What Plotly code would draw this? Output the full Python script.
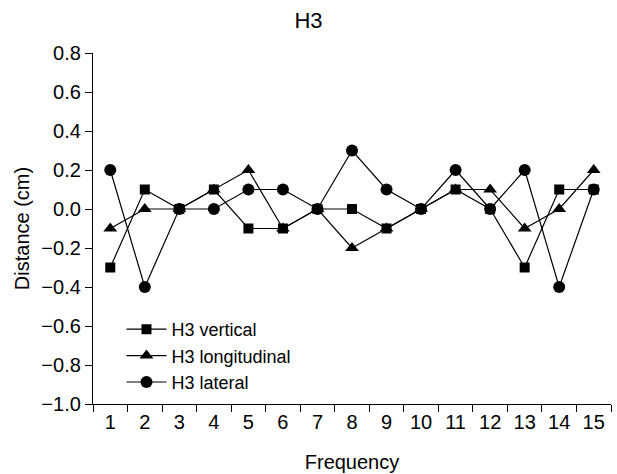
import plotly.graph_objects as go

frequency = [str(i) for i in range(1, 16)]
h3_vertical = [-0.3, 0.1, 0.0, 0.1, -0.1, -0.1, 0.0, 0.0, -0.1, 0.0, 0.1, 0.0, -0.3, 0.1, 0.1]
h3_longitudinal = [-0.1, 0.0, 0.0, 0.1, 0.2, -0.1, 0.0, -0.2, -0.1, 0.0, 0.1, 0.1, -0.1, 0.0, 0.2]
h3_lateral = [0.2, -0.4, 0.0, 0.0, 0.1, 0.1, 0.0, 0.3, 0.1, 0.0, 0.2, 0.0, 0.2, -0.4, 0.1]
y_ticks = [0.8, 0.6, 0.4, 0.2, 0.0, -0.2, -0.4, -0.6, -0.8, -1.0]

FONT = "Liberation Sans, Arial, sans-serif"
FS = 20

fig = go.Figure()
for name, vals, sym, sz in [
    ("H3 vertical", h3_vertical, "square", 10),
    ("H3 longitudinal", h3_longitudinal, "triangle-up", 12),
    ("H3 lateral", h3_lateral, "circle", 12),
]:
    fig.add_trace(go.Scatter(
        x=frequency, y=vals, name=name, mode="lines+markers",
        line=dict(color="black", width=1.2),
        marker=dict(symbol=sym, size=sz, color="black"),
    ))

fig.update_layout(
    width=617, height=474,
    margin=dict(l=93, r=6, t=53, b=70, autoexpand=False),
    paper_bgcolor="white", plot_bgcolor="white",
    font=dict(family=FONT, size=FS, color="black"),
    title=dict(text="H3", x=0.5, xanchor="center", y=0.958, yanchor="middle",
               font=dict(family=FONT, size=22, color="black")),
    legend=dict(x=0.055, y=0.265, xanchor="left", yanchor="top",
                bgcolor="rgba(0,0,0,0)", font=dict(family=FONT, size=18),
                tracegroupgap=0, itemwidth=40),
    showlegend=True,
)
fig.update_xaxes(
    type="category", range=[-0.5, 14.5], automargin=False,
    showline=True, linecolor="black", linewidth=1.3,
    ticks="outside", tickson="boundaries", ticklen=7, tickcolor="black", tickwidth=1.3,
    showgrid=False, zeroline=False,
    title=dict(text="Frequency", font=dict(family=FONT, size=FS), standoff=22),
    tickfont=dict(family=FONT, size=FS),
)
fig.update_yaxes(
    range=[-1.0, 0.8], tickvals=y_ticks, tickformat=".1f", automargin=False,
    showline=True, linecolor="black", linewidth=1.3,
    ticks="outside", ticklen=7, tickcolor="black", tickwidth=1.3,
    showgrid=False, zeroline=False,
    title=dict(text="Distance (cm)", font=dict(family=FONT, size=FS), standoff=6),
    tickfont=dict(family=FONT, size=FS),
)

fig.write_html("out.html",
               config={"displayModeBar": False},
               post_script="document.body.style.margin='0';document.body.style.padding='0';")
